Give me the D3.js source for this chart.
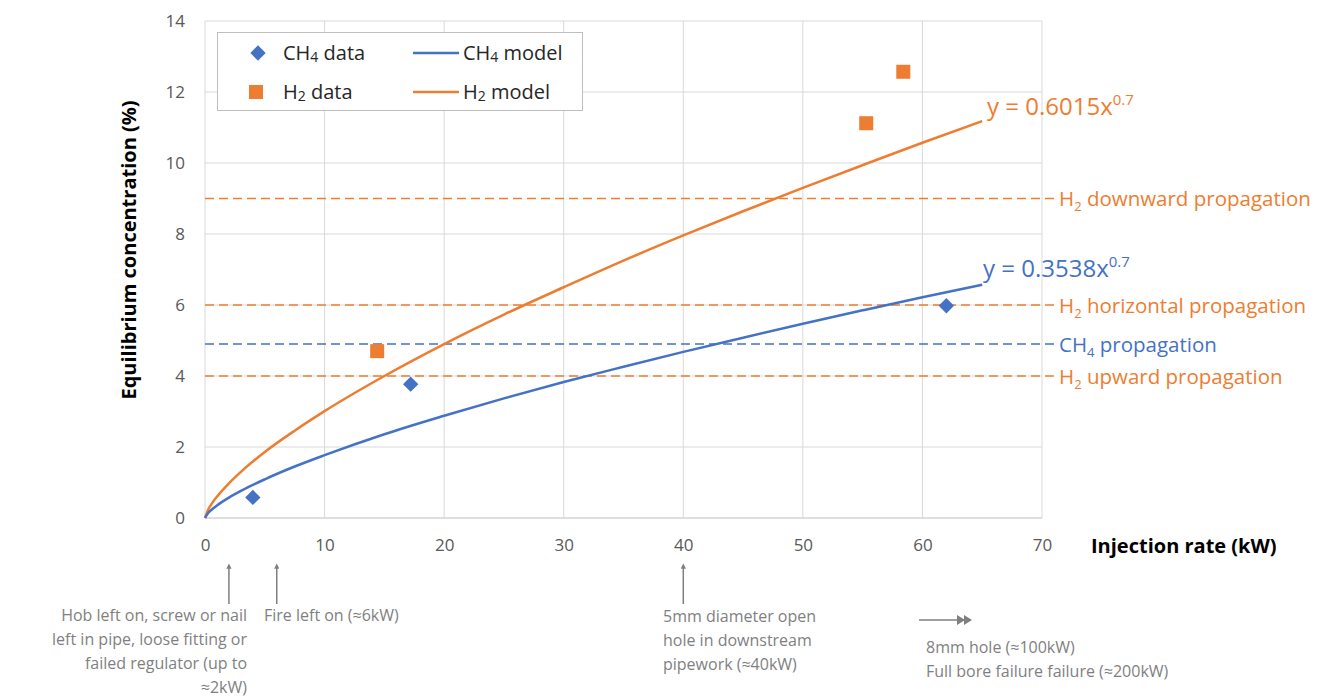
<!DOCTYPE html>
<html lang="en">
<head>
<meta charset="UTF-8" />
<title>Equilibrium concentration vs injection rate</title>
<script src="https://cdn.jsdelivr.net/npm/d3@7"></script>
<style>
    html, body { margin: 0; background: #fff; }
    svg text { font-family: "Open Sans", "Noto Sans", sans-serif; }
</style>
</head>
<body>
<div id="chart"></div>
<script>
    // data
    const ch4DataX = [4, 17.2, 62];
    const ch4DataY = [0.58, 3.77, 5.98];
    const h2DataX = [14.4, 55.3, 58.4];
    const h2DataY = [4.7, 11.12, 12.57];

    const modelX = [0, 0.25, 0.5, 1, 2, 3, 5, 7.5, 10, 15, 20, 25, 30, 35, 40, 45, 50, 55, 60, 65];
    const ch4ModelY = [0, 0.134, 0.218, 0.354, 0.575, 0.764, 1.09, 1.45, 1.77, 2.36, 2.88, 3.37, 3.83, 4.26, 4.68, 5.08, 5.47, 5.85, 6.22, 6.57];
    const h2ModelY = [0, 0.228, 0.371, 0.60, 0.977, 1.30, 1.86, 2.46, 3.01, 4.00, 4.90, 5.73, 6.50, 7.25, 7.96, 8.64, 9.30, 9.94, 10.57, 11.18];

    const limitValues = [9, 6, 4.9, 4];
    const limitGas = ["H", "H", "C", "H"];
    const limitNames = ["downward propagation", "horizontal propagation", "propagation", "upward propagation"];

    const xTicks = [0, 10, 20, 30, 40, 50, 60, 70];
    const yTicks = [0, 2, 4, 6, 8, 10, 12, 14];

    const blue = "#4472C4", orange = "#ED7D31", grey = "#7f7f7f", tickGrey = "#595959";

    const svg = d3.select("#chart").append("svg")
        .attr("width", 1334).attr("height", 700);

    const x = d3.scaleLinear().domain([0, 70]).range([205, 1042]);
    const y = d3.scaleLinear().domain([0, 14]).range([518, 21]);

    // grid
    svg.append("g").selectAll("line").data(yTicks).join("line")
        .attr("x1", x(0)).attr("x2", x(70))
        .attr("y1", d => y(d)).attr("y2", d => y(d))
        .attr("stroke", d => d === 0 ? "#bfbfbf" : "#d9d9d9").attr("stroke-width", 1);
    svg.append("g").selectAll("line").data(xTicks).join("line")
        .attr("x1", d => x(d)).attr("x2", d => x(d))
        .attr("y1", y(0)).attr("y2", y(14))
        .attr("stroke", "#d9d9d9").attr("stroke-width", 1);

    // axes (labels only)
    const xAxis = svg.append("g").attr("transform", `translate(0,${y(0)})`)
        .call(d3.axisBottom(x).tickValues(xTicks).tickSize(0).tickPadding(21));
    const yAxis = svg.append("g").attr("transform", `translate(${x(0)},0)`)
        .call(d3.axisLeft(y).tickValues(yTicks).tickSize(0).tickPadding(20));
    [xAxis, yAxis].forEach(a => {
        a.select(".domain").remove();
        a.selectAll("text").attr("fill", tickGrey).style("font-size", "17px")
            .style("font-family", "'Open Sans', sans-serif");
    });

    svg.append("text")
        .attr("transform", "translate(136,250) rotate(-90)")
        .attr("text-anchor", "middle").attr("fill", "#000")
        .style("font-size", "20px").style("font-weight", "bold")
        .text("Equilibrium concentration (%)");
    svg.append("text")
        .attr("x", 1091).attr("y", 553)
        .attr("fill", "#000").style("font-size", "20px").style("font-weight", "bold")
        .text("Injection rate (kW)");

    // limit lines
    const limits = limitValues.map((v, i) => ({ v, gas: limitGas[i], name: limitNames[i] }));
    svg.append("g").selectAll("line").data(limits).join("line")
        .attr("x1", x(0)).attr("x2", 1056)
        .attr("y1", d => y(d.v)).attr("y2", d => y(d.v))
        .attr("stroke", d => d.gas === "C" ? blue : orange)
        .attr("stroke-width", 1.5).attr("stroke-dasharray", "9,5");

    const limitText = svg.append("g").selectAll("text").data(limits).join("text")
        .attr("x", 1059).attr("y", d => y(d.v) + 7.5)
        .attr("fill", d => d.gas === "C" ? blue : orange)
        .style("font-size", "20.5px");
    limitText.append("tspan").text(d => d.gas === "C" ? "CH" : "H");
    limitText.append("tspan").attr("dy", 5).style("font-size", "13px").text(d => d.gas === "C" ? "4" : "2");
    limitText.append("tspan").attr("dy", -5).text(d => " " + d.name);

    // model curves
    const line = d3.line().x(d => x(d[0])).y(d => y(d[1])).curve(d3.curveMonotoneX);
    svg.append("path").datum(modelX.map((v, i) => [v, h2ModelY[i]]))
        .attr("d", line).attr("fill", "none").attr("stroke", orange).attr("stroke-width", 2.5);
    svg.append("path").datum(modelX.map((v, i) => [v, ch4ModelY[i]]))
        .attr("d", line).attr("fill", "none").attr("stroke", blue).attr("stroke-width", 2.5);

    // data markers
    svg.append("g").selectAll("path").data(ch4DataX.map((v, i) => [v, ch4DataY[i]])).join("path")
        .attr("d", d3.symbol(d3.symbolDiamond2, 150))
        .attr("transform", d => `translate(${x(d[0])},${y(d[1])})`)
        .attr("fill", blue);
    svg.append("g").selectAll("rect").data(h2DataX.map((v, i) => [v, h2DataY[i]])).join("rect")
        .attr("x", d => x(d[0]) - 7).attr("y", d => y(d[1]) - 7)
        .attr("width", 14).attr("height", 14).attr("fill", orange);

    // equations
    function equation(xp, yp, coef, color) {
        const t = svg.append("text").attr("x", xp).attr("y", yp).attr("fill", color).style("font-size", "24px");
        t.append("tspan").text("y = " + coef + "x");
        t.append("tspan").attr("dy", -10).style("font-size", "15px").text("0.7");
    }
    equation(987, 115, "0.6015", orange);
    equation(983, 277, "0.3538", blue);

    // legend
    const lg = svg.append("g");
    lg.append("rect").attr("x", 217.5).attr("y", 32.5).attr("width", 365).attr("height", 78)
        .attr("fill", "#fff").attr("stroke", "#bfbfbf");
    lg.append("path").attr("d", d3.symbol(d3.symbolDiamond2, 150))
        .attr("transform", "translate(258,53)").attr("fill", blue);
    lg.append("rect").attr("x", 249).attr("y", 85).attr("width", 14).attr("height", 14).attr("fill", orange);
    lg.append("line").attr("x1", 413).attr("x2", 459).attr("y1", 53).attr("y2", 53).attr("stroke", blue).attr("stroke-width", 2.5);
    lg.append("line").attr("x1", 413).attr("x2", 459).attr("y1", 92).attr("y2", 92).attr("stroke", orange).attr("stroke-width", 2.5);
    function legendText(xp, yp, base, sub, rest) {
        const t = lg.append("text").attr("x", xp).attr("y", yp).attr("fill", "#262626").style("font-size", "20px");
        t.append("tspan").text(base);
        t.append("tspan").attr("dy", 2).style("font-size", "14px").text(sub);
        t.append("tspan").attr("dy", -2).text(rest);
    }
    legendText(283, 60, "CH", "4", " data");
    legendText(283, 99, "H", "2", " data");
    legendText(463, 60, "CH", "4", " model");
    legendText(463, 99, "H", "2", " model");

    // annotations
    svg.append("defs").append("marker")
        .attr("id", "head").attr("viewBox", "0 0 10 10").attr("refX", 5).attr("refY", 5)
        .attr("markerWidth", 3.5).attr("markerHeight", 3.5).attr("orient", "auto")
        .append("path").attr("d", "M0,0 L10,5 L0,10 Z").attr("fill", grey);

    const arrowKW = [2, 6, 40];
    svg.append("g").selectAll("line").data(arrowKW).join("line")
        .attr("x1", d => x(d)).attr("x2", d => x(d))
        .attr("y1", 604).attr("y2", 566)
        .attr("stroke", grey).attr("stroke-width", 1.5).attr("marker-end", "url(#head)");

    function block(xp, yp, lines, anchor) {
        const t = svg.append("text").attr("x", xp).attr("y", yp).attr("fill", grey)
            .attr("text-anchor", anchor).style("font-size", "16px");
        lines.forEach((l, i) => t.append("tspan").attr("x", xp).attr("dy", i ? 24 : 0).text(l));
    }
    block(247, 621, ["Hob left on, screw or nail", "left in pipe, loose fitting or", "failed regulator (up to", "\u22482kW)"], "end");
    block(264, 621, ["Fire left on (\u22486kW)"], "start");
    block(663, 622, ["5mm diameter open", "hole in downstream", "pipework (\u224840kW)"], "start");
    block(926, 653, ["8mm hole (\u2248100kW)", "Full bore failure failure (\u2248200kW)"], "start");

    svg.append("line").attr("x1", 919).attr("x2", 965).attr("y1", 620).attr("y2", 620)
        .attr("stroke", grey).attr("stroke-width", 1.5);
    svg.append("path").attr("d", "M957,615 L965,620 L957,625 Z M964,615 L972,620 L964,625 Z").attr("fill", grey);
</script>
</body>
</html>
